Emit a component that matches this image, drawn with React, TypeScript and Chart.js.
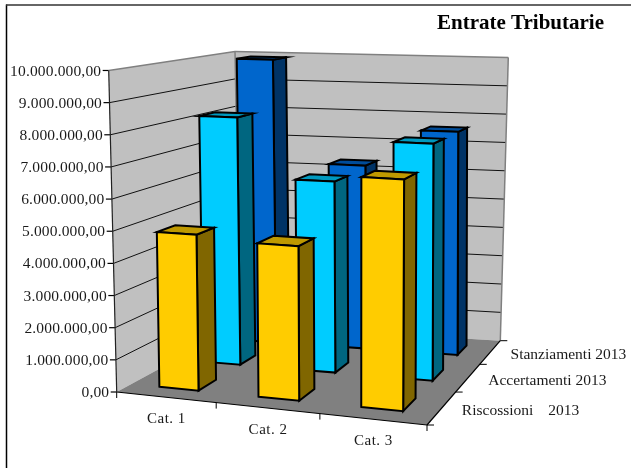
import React, { useEffect, useRef } from "react";
import { Chart, registerables } from "chart.js";

Chart.register(...registerables);

const categories = ["Cat. 1", "Cat. 2", "Cat. 3"];
const depthLabels = ["Riscossioni 2013", "Accertamenti 2013", "Stanziamenti 2013"];
const riscossioni = [4870000, 4730000, 6950000];
const accertamenti = [8200000, 6230000, 7600000];
const stanziamenti = [9900000, 6320000, 7600000];
const seriesValues = [riscossioni, accertamenti, stanziamenti];

const frontColors = ["#FFCC00", "#00CCFF", "#0066CC"];
const sideColors = ["#806600", "#006680", "#003366"];
const topColors = ["#BF9900", "#0099BF", "#004C99"];

const SERIF = '"Liberation Serif", "Times New Roman", serif';

type Pt = { x: number; y: number };
type Quad = [Pt, Pt, Pt, Pt];

// Floor corners in canvas space: front-left, front-right, back-right, back-left.
const floorQuad: Quad = [
  { x: 116.7, y: 392 },
  { x: 427, y: 425 },
  { x: 500.3, y: 340.7 },
  { x: 240, y: 325 },
];

// Unit square to quadrilateral projective map.
function squareToQuad(q: Quad) {
  const [p0, p1, p2, p3] = q;
  const dx1 = p1.x - p2.x;
  const dx2 = p3.x - p2.x;
  const sx = p0.x - p1.x + p2.x - p3.x;
  const dy1 = p1.y - p2.y;
  const dy2 = p3.y - p2.y;
  const sy = p0.y - p1.y + p2.y - p3.y;
  const den = dx1 * dy2 - dx2 * dy1;
  const g = (sx * dy2 - dx2 * sy) / den;
  const h = (dx1 * sy - sx * dy1) / den;
  const a = p1.x - p0.x + g * p1.x;
  const b = p3.x - p0.x + h * p3.x;
  const c = p0.x;
  const d = p1.y - p0.y + g * p1.y;
  const e = p3.y - p0.y + h * p3.y;
  const f = p0.y;
  return (u: number, v: number): Pt => {
    const w = g * u + h * v + 1;
    return { x: (a * u + b * v + c) / w, y: (d * u + e * v + f) / w };
  };
}

const floorAt = squareToQuad(floorQuad);

// u: along the categories, v: into the depth, w: share of the value axis.
// The small warp on u evens out the foreshortening along the front edge.
// Full height and sideways lean of a vertical both depend on where it stands on the floor;
// the bars stand more upright than the wall edges, hence the two lean adjustments.
function project(u: number, v: number, w: number, leanScale = 1, leanShift = 0): Pt {
  const a = floorAt(u + 0.12 * u * (1 - u), v);
  const height = 45.2 - 0.0054 * a.x + 0.7065 * a.y;
  const lean = (-0.1254 + 0.000166 * a.x + 0.000207 * a.y) * leanScale + leanShift;
  return { x: a.x + lean * height * w, y: a.y - height * w };
}

function poly(ctx: CanvasRenderingContext2D, pts: Pt[], fill: string | null, stroke: string | null, lw = 1) {
  ctx.beginPath();
  pts.forEach((p, i) => (i ? ctx.lineTo(p.x, p.y) : ctx.moveTo(p.x, p.y)));
  ctx.closePath();
  if (fill) {
    ctx.fillStyle = fill;
    ctx.fill();
  }
  if (stroke) {
    ctx.strokeStyle = stroke;
    ctx.lineWidth = lw;
    ctx.lineJoin = "miter";
    ctx.stroke();
  }
}

function line(ctx: CanvasRenderingContext2D, a: Pt, b: Pt, color: string, lw: number) {
  ctx.beginPath();
  ctx.moveTo(a.x, a.y);
  ctx.lineTo(b.x, b.y);
  ctx.strokeStyle = color;
  ctx.lineWidth = lw;
  ctx.stroke();
}

const BAR_WIDTH = 0.4;
const BAR_DEPTH = 0.4;
const BAR_LEAN = 0.45;
const BAR_LEAN_SHIFT = -0.008;
const BAR_NUDGE = -0.004;

const box3d = {
  id: "box3d",
  beforeDatasetsDraw(chart: any) {
    const { ctx, chartArea, scales } = chart;
    const xScale = scales.x;
    const yScale = scales.y;
    const zScale = scales.depth;
    const fracX = (i: number) => (xScale.getPixelForValue(i) - chartArea.left) / chartArea.width;
    const fracZ = (i: number) => (zScale.getPixelForValue(i) - chartArea.top) / chartArea.height;
    const fracY = (val: number) => (chartArea.bottom - yScale.getPixelForValue(val)) / chartArea.height;

    ctx.save();

    // Outer frame, left and top sides only.
    line(ctx, { x: 6.5, y: 4.5 }, { x: 6.5, y: 468 }, "#000000", 1.5);
    line(ctx, { x: 6, y: 5 }, { x: 631, y: 5 }, "#333333", 1.5);

    // Walls and floor.
    poly(ctx, [project(0, 0, 0), project(0, 0, 1), project(0, 1, 1), project(0, 1, 0)], "#C0C0C0", null);
    poly(ctx, [project(0, 1, 0), project(0, 1, 1), project(1, 1, 1), project(1, 1, 0)], "#C0C0C0", null);
    poly(ctx, [project(0, 0, 0), project(1, 0, 0), project(1, 1, 0), project(0, 1, 0)], "#808080", null);

    // Gridlines on both walls, with the value labels beside the front edge.
    ctx.font = `15.5px ${SERIF}`;
    ctx.letterSpacing = "0.15px";
    ctx.textBaseline = "middle";
    ctx.textAlign = "right";
    for (const tick of yScale.ticks) {
      const w = fracY(tick.value);
      if (w > 0 && w < 1) {
        line(ctx, project(0, 0, w), project(0, 1, w), "#111111", 1);
        line(ctx, project(0, 1, w), project(1, 1, w), "#111111", 1);
      }
      const p = project(0, 0, w);
      line(ctx, p, { x: p.x - 6, y: p.y }, "#000000", 1.2);
      ctx.fillStyle = "#1a1a1a";
      ctx.fillText(tick.label, p.x - 7.5, p.y + 1);
    }
    ctx.letterSpacing = "0px";

    // Grey rim along the tops and the far side of the walls.
    line(ctx, project(0, 0, 1), project(0, 1, 1), "#808080", 1.5);
    line(ctx, project(0, 1, 1), project(1, 1, 1), "#808080", 1.5);
    line(ctx, project(1, 1, 1), project(1, 1, 0), "#808080", 1.5);
    line(ctx, project(0, 1, 1), project(0, 1, 0), "#808080", 1.5);

    // Bars, from the farthest row to the nearest.
    const stepX = fracX(1) - fracX(0);
    const stepZ = fracZ(1) - fracZ(0);
    const last = chart.data.datasets.length - 1;
    for (let d = last; d >= 0; d--) {
      const vals = chart.data.datasets[d].data as number[];
      const v0 = fracZ(d) - (stepZ * BAR_DEPTH) / 2;
      const v1 = fracZ(d) + (stepZ * BAR_DEPTH) / 2;
      vals.forEach((val, i) => {
        const u0 = fracX(i) - (stepX * BAR_WIDTH) / 2 + BAR_NUDGE;
        const u1 = fracX(i) + (stepX * BAR_WIDTH) / 2 + BAR_NUDGE;
        const w = fracY(val);
        const at = (u: number, v: number, t: number) => project(u, v, t, BAR_LEAN, BAR_LEAN_SHIFT);
        const front = [at(u0, v0, 0), at(u1, v0, 0), at(u1, v0, w), at(u0, v0, w)];
        const side = [at(u1, v0, 0), at(u1, v1, 0), at(u1, v1, w), at(u1, v0, w)];
        const top = [at(u0, v0, w), at(u1, v0, w), at(u1, v1, w), at(u0, v1, w)];
        poly(ctx, side, sideColors[d], "#000000", 2);
        poly(ctx, top, topColors[d], "#000000", 2);
        poly(ctx, front, frontColors[d], "#000000", 2);
      });
    }

    // Front and right floor edges with their ticks.
    line(ctx, project(0, 0, 0), project(1, 0, 0), "#000000", 1.2);
    line(ctx, project(1, 0, 0), project(1, 1, 0), "#000000", 1.2);
    line(ctx, project(0, 0, 0), project(0, 0, 1), "#222222", 1.2);

    // Category labels sit centred below the span between two neighbouring ticks.
    ctx.font = `15px ${SERIF}`;
    ctx.letterSpacing = "0.5px";
    ctx.textAlign = "center";
    xScale.getLabels().forEach((label: string, i: number) => {
      const a = project(fracX(i) - stepX / 2, 0, 0);
      const b = project(fracX(i) + stepX / 2, 0, 0);
      if (i === 0) line(ctx, a, { x: a.x, y: a.y + 6 }, "#000000", 1);
      line(ctx, b, { x: b.x, y: b.y + 6 }, "#000000", 1);
      ctx.fillStyle = "#1a1a1a";
      ctx.fillText(label, (a.x + b.x) / 2, (a.y + b.y) / 2 + 22);
    });
    ctx.letterSpacing = "0px";

    // Depth labels follow the right floor edge.
    ctx.font = `15.5px ${SERIF}`;
    ctx.textAlign = "left";
    zScale.getLabels().forEach((label: string, i: number) => {
      const a = project(1, fracZ(i) - stepZ / 2, 0);
      const b = project(1, fracZ(i) + stepZ / 2, 0);
      if (i === 0) line(ctx, a, { x: a.x + 7, y: a.y }, "#000000", 1);
      line(ctx, b, { x: b.x + 7, y: b.y }, "#000000", 1);
      ctx.fillStyle = "#1a1a1a";
      ctx.wordSpacing = i === 0 ? "11px" : "0px";
      ctx.fillText(label, (a.x + b.x) / 2 + 20.5, (a.y + b.y) / 2 + 2.5);
    });
    ctx.wordSpacing = "0px";

    ctx.restore();
    return false;
  },
};

export default function App() {
  const ref = useRef<HTMLCanvasElement>(null);
  useEffect(() => {
    document.body.style.margin = "0";
    const chart = new Chart(ref.current!, {
      type: "bar",
      data: {
        labels: categories,
        datasets: depthLabels.map((label, i) => ({ label, data: seriesValues[i] })),
      },
      options: {
        responsive: false,
        animation: false,
        layout: { padding: { left: 117, right: 27, bottom: 76, top: 0 } },
        plugins: {
          legend: { display: false },
          tooltip: { enabled: false },
          title: {
            display: true,
            text: "Entrate Tributarie",
            align: "end",
            color: "#000000",
            font: { family: SERIF, size: 21, weight: "bold", lineHeight: 1.2 },
            padding: { top: 11.4, bottom: 33.9 },
          },
        },
        scales: {
          x: { type: "category", display: false, offset: true },
          y: {
            type: "linear",
            display: false,
            min: 0,
            max: 10000000,
            ticks: {
              stepSize: 1000000,
              callback: (value: any) =>
                Number(value).toLocaleString("it-IT", { minimumFractionDigits: 2, maximumFractionDigits: 2 }),
            },
          },
          depth: { type: "category", display: false, axis: "y", position: "right", offset: true, labels: depthLabels },
        },
      } as any,
      plugins: [box3d],
    });
    return () => chart.destroy();
  }, []);
  return <canvas ref={ref} width={631} height={468} style={{ display: "block" }} />;
}
